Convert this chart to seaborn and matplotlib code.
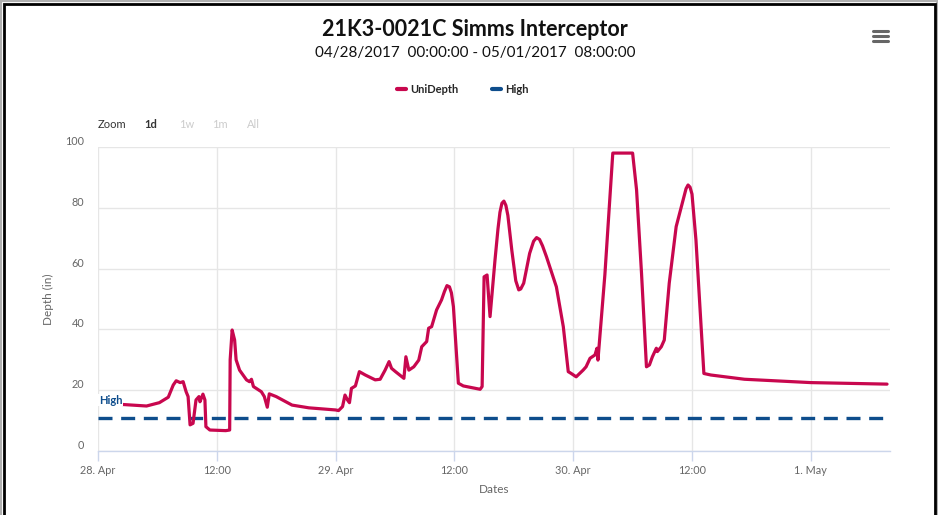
import matplotlib
matplotlib.use("Agg")
import matplotlib.pyplot as plt
import seaborn as sns
import pandas as pd
from matplotlib.lines import Line2D
from matplotlib.patches import Rectangle

# ---------------- data ----------------
hours = [0.0, 0.5, 2.5, 4.9, 6.2, 7.1, 7.6, 7.9, 8.3, 8.6, 8.9, 9.1, 9.3, 9.6, 9.9,
         10.2, 10.3, 10.6, 10.8, 10.9, 11.3, 12.9, 13.3, 13.35, 13.55, 13.8, 13.95,
         14.3, 15.0, 15.3, 15.5, 15.7, 16.5, 16.8, 17.1, 17.3, 18.0, 19.6, 21.3,
         24.0, 24.3, 24.7, 24.95, 25.2, 25.4, 25.6, 26.0, 26.4, 27.0, 28.0, 28.5,
         29.0, 29.4, 29.65, 30.05, 30.9, 31.1, 31.4, 31.9, 32.4, 32.7, 33.2, 33.4,
         33.7, 34.2, 34.7, 35.0, 35.25, 35.5, 35.7, 35.9, 36.4, 36.9, 38.6, 38.8,
         39.0, 39.3, 39.6, 40.1, 40.4, 40.6, 40.8, 41.0, 41.2, 41.4, 41.8, 42.2,
         42.5, 42.7, 43.0, 43.6, 44.0, 44.3, 44.6, 44.9, 45.3, 46.3, 47.0, 47.5,
         47.8, 48.3, 49.0, 49.3, 49.7, 50.2, 50.4, 50.5, 51.2, 52.0, 54.0, 54.4,
         54.9, 55.4, 55.7, 56.0, 56.4, 56.5, 56.9, 57.2, 57.7, 58.4, 59.1, 59.4,
         59.6, 59.8, 60.0, 60.4, 60.9, 61.2, 61.9, 65.3, 72.0, 79.7]
unidepth = [16.0, 15.8, 15.3, 14.8, 15.9, 17.7, 21.7, 23.1, 22.5, 22.8, 19.5, 17.9, 8.6, 9.1, 16.8,
            17.9, 16.2, 18.7, 16.8, 8.0, 6.9, 6.7, 6.9, 30.0, 39.8, 36.5, 30.0,
            26.6, 23.4, 22.8, 23.6, 21.2, 19.5, 17.9, 14.4, 18.8, 17.9, 15.1, 14.2,
            13.5, 13.3, 14.6, 18.4, 16.8, 15.9, 20.6, 21.4, 26.1, 25.0, 23.4, 23.6,
            26.6, 29.4, 27.2, 26.1, 23.9, 31.0, 26.6, 27.7, 29.9, 34.3, 36.0, 40.4,
            40.9, 46.4, 49.7, 52.5, 54.4, 54.0, 52.0, 47.5, 22.3, 21.4, 20.3, 21.2,
            57.3, 57.9, 44.2, 62.8, 73.0, 78.5, 81.5, 82.2, 80.8, 77.5, 66.0, 56.0,
            53.0, 53.3, 55.2, 65.0, 69.0, 70.2, 69.6, 67.5, 63.9, 54.0, 40.9, 26.1,
            25.5, 24.4, 26.6, 27.7, 30.5, 31.6, 33.8, 29.9, 58.0, 98.0, 98.0, 85.9,
            58.5, 27.7, 28.3, 31.0, 33.8, 32.7, 34.3, 36.5, 55.2, 73.8, 82.6, 86.3,
            87.5, 86.8, 84.5, 69.4, 42.0, 25.5, 25.0, 23.6, 22.5, 22.0]
high_hours = [0.0, 80.0]
high_values = [11.0, 11.0]

tick_hours = [0, 12, 24, 36, 48, 60, 72]
tick_labels = ["28. Apr", "12:00", "29. Apr", "12:00", "30. Apr", "12:00", "1. May"]
y_ticks = [0, 20, 40, 60, 80, 100]

title = "21K3-0021C Simms Interceptor"
subtitle = "04/28/2017  00:00:00 - 05/01/2017  08:00:00"

# ---------------- style ----------------
sns.set_theme(style="white")
plt.rcParams["font.family"] = ["Lato", "DejaVu Sans"]

UNI_C = "#c8074e"
HIGH_C = "#0e4d8c"

W, H = 938, 515
fig = plt.figure(figsize=(W / 100, H / 100), dpi=100, facecolor="white")
ax = fig.add_axes([98 / W, 64 / H, (890 - 98) / W, (451 - 147) / H])

df_u = pd.DataFrame({"Hours": hours, "Depth": unidepth})
df_h = pd.DataFrame({"Hours": high_hours, "Depth": high_values})

sns.lineplot(data=df_h, x="Hours", y="Depth", ax=ax, color=HIGH_C, lw=2.4,
             linestyle=(0, (4.2, 2.6)), zorder=3)
sns.lineplot(data=df_u, x="Hours", y="Depth", ax=ax, color=UNI_C, lw=2.3,
             zorder=4, solid_joinstyle="round", solid_capstyle="round")

ax.set_xlim(0, 80)
ax.set_ylim(0, 100)
ax.set_xticks(tick_hours)
ax.set_xticklabels(tick_labels)
ax.set_yticks(y_ticks)
ax.set_yticklabels([str(v) for v in y_ticks])

ax.grid(True, color="#e6e6e6", lw=1)
ax.set_axisbelow(True)
for s in ["top", "right", "left"]:
    ax.spines[s].set_visible(False)
ax.spines["bottom"].set_color("#ccd6eb")
ax.spines["bottom"].set_linewidth(1)

ax.tick_params(axis="x", colors="#ccd6eb", length=7, width=1, direction="out",
               labelcolor="#666666", labelsize=7.8, pad=3, bottom=True)
ax.tick_params(axis="y", length=0, labelcolor="#666666", labelsize=7.8, pad=10)
for lab in ax.get_yticklabels():
    lab.set_verticalalignment("bottom")

ax.set_xlabel("Dates", color="#666666", fontsize=8.5, labelpad=6)
ax.set_ylabel("Depth (in)", color="#666666", fontsize=8.5, labelpad=8)

# "High" label on the plot line
ax.annotate("High", xy=(high_hours[0], high_values[0]), xytext=(1, 12),
            textcoords="offset pixels", color=HIGH_C, fontsize=8,
            fontweight="bold", ha="left", va="bottom", zorder=6,
            bbox=dict(boxstyle="square,pad=0.05", fc="white", ec="none"))

# titles
fig.text(475 / W, 1 - 30 / H, title, ha="center", va="center", fontsize=15.5,
         fontweight="bold", color="#111111")
fig.text(475 / W, 1 - 53 / H, subtitle, ha="center", va="center", fontsize=11,
         color="#111111")

# legend
handles = [Line2D([], [], color=UNI_C, lw=3), Line2D([], [], color=HIGH_C, lw=3)]
fig.legend(handles, ["UniDepth", "High"], loc="center", bbox_to_anchor=(463 / W, 1 - 89 / H),
           ncol=2, frameon=False, handlelength=0.8, handletextpad=0.4, columnspacing=3.0,
           prop={"weight": "bold", "size": 8})

# zoom buttons
fig.text(98 / W, 1 - 125 / H, "Zoom", ha="left", va="center", fontsize=8, color="#333333")
fig.text(144 / W, 1 - 125 / H, "1d", ha="left", va="center", fontsize=8, color="#333333",
         fontweight="bold")
fig.text(179 / W, 1 - 125 / H, "1w", ha="left", va="center", fontsize=8, color="#cccccc")
fig.text(212 / W, 1 - 125 / H, "1m", ha="left", va="center", fontsize=8, color="#cccccc")
fig.text(247 / W, 1 - 125 / H, "All", ha="left", va="center", fontsize=8, color="#cccccc")

# hamburger menu icon
for yy in (31, 36, 41):
    fig.add_artist(Line2D([873 / W, 888 / W], [1 - yy / H, 1 - yy / H], color="#666666",
                          lw=2.2, transform=fig.transFigure))

# screenshot frame
fig.add_artist(Rectangle((0, -0.1), 1, 1.1, transform=fig.transFigure, fill=False,
                         edgecolor="#b0b0b0", lw=3))
fig.add_artist(Rectangle((3.5 / W, -0.1), (W - 7) / W, 1.1 - 3.5 / H, transform=fig.transFigure,
                         fill=False, edgecolor="black", lw=2))

fig.savefig("out.png", dpi=100, facecolor="white")
